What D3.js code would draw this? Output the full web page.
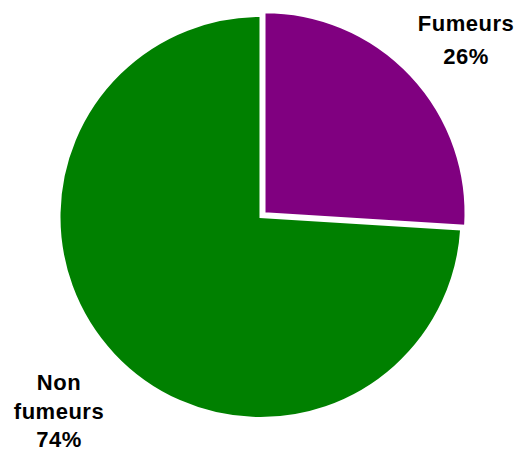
<!DOCTYPE html>
<html><head><meta charset="utf-8">
<script src="https://cdn.jsdelivr.net/npm/d3@7"></script>
<style>html,body{margin:0;padding:0;background:#fff;}svg{display:block;}</style>
</head><body>
<svg id="chart" width="520" height="452"></svg>
<script>
const categories = ["Fumeurs", "Non fumeurs"];
const values = [26, 74];
const colors = ["#800080", "#008000"];
const labelLines = [["Fumeurs", "26%"], ["Non", "fumeurs", "74%"]];

const svg = d3.select("#chart");
const cx = 260.5, cy = 217, r = 201;
const explode = [5.5, 0];

const pie = d3.pie().sort(null).value(d => d)(values);
const arc = d3.arc().innerRadius(0).outerRadius(r);

const g = svg.append("g").attr("transform", `translate(${cx},${cy})`);
g.selectAll("path").data(pie).join("path")
  .attr("d", arc)
  .attr("fill", (d, i) => colors[i])
  .attr("stroke", "#fff")
  .attr("stroke-width", 2)
  .attr("transform", (d, i) => {
    const a = (d.startAngle + d.endAngle) / 2;
    return `translate(${Math.sin(a) * explode[i]},${-Math.cos(a) * explode[i]})`;
  });

const labelPos = [[466, 31, 33], [59, 390, 28.5]];
labelLines.forEach((lines, i) => {
  const t = svg.append("text")
    .attr("text-anchor", "middle")
    .attr("font-family", "Liberation Sans, Arial, sans-serif")
    .attr("font-weight", "bold")
    .attr("font-size", 22)
    .attr("letter-spacing", 0.5)
    .attr("fill", "#000");
  lines.forEach((s, j) => {
    t.append("tspan").attr("x", labelPos[i][0]).attr("y", labelPos[i][1] + j * labelPos[i][2]).text(s);
  });
});
</script>
</body></html>
